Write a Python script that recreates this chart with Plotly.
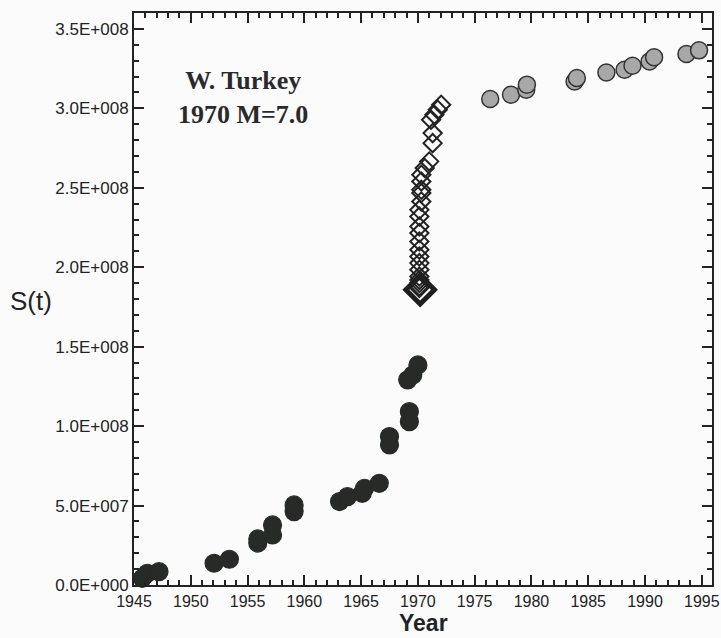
import plotly.graph_objects as go

# Cumulative Benioff strain S(t) for the W. Turkey 1970 M=7.0 sequence
# Foreshock period (filled black circles)
pre_years = [1945.73, 1946.17, 1947.2, 1952.05, 1953.4, 1955.9, 1955.9, 1957.2, 1957.2,
             1959.1, 1959.1, 1963.1, 1963.8, 1965.1, 1965.3, 1966.6, 1967.5, 1967.5,
             1969.25, 1969.25, 1969.1, 1969.55, 1970.0]
pre_values = [0.42e7, 0.74e7, 0.84e7, 1.37e7, 1.62e7, 2.64e7, 2.9e7, 3.15e7, 3.78e7,
              4.62e7, 5.04e7, 5.25e7, 5.56e7, 5.77e7, 6.09e7, 6.40e7, 8.82e7, 9.34e7,
              1.028e8, 1.091e8, 1.291e8, 1.322e8, 1.385e8]

# Main shock (large diamond)
main_year = [1970.2]
main_value = [1.858e8]

# Aftershock period (open diamonds)
after_years = [1970.13, 1970.13, 1970.13, 1970.13, 1970.13, 1970.13, 1970.13, 1970.13,
               1970.13, 1970.13, 1970.13, 1970.13, 1970.13, 1970.13,
               1970.3, 1970.3, 1970.3, 1970.3, 1970.3,
               1970.6, 1971.0, 1971.3, 1971.3, 1971.16, 1971.45, 1971.75, 1972.05]
after_values = [1.87e8, 1.88e8, 1.90e8, 1.92e8, 1.941e8, 1.984e8, 2.026e8, 2.067e8,
                2.110e8, 2.162e8, 2.215e8, 2.256e8, 2.319e8, 2.361e8,
                2.414e8, 2.467e8, 2.487e8, 2.540e8, 2.582e8,
                2.624e8, 2.666e8, 2.781e8, 2.844e8, 2.928e8, 2.960e8, 2.991e8, 3.023e8]

# Later period (grey circles)
post_years = [1976.37, 1978.2, 1979.54, 1979.6, 1983.8, 1984.0, 1986.6, 1988.2,
              1988.9, 1990.4, 1990.8, 1993.65, 1994.76]
post_values = [3.059e8, 3.086e8, 3.117e8, 3.149e8, 3.169e8, 3.191e8, 3.226e8, 3.243e8,
               3.268e8, 3.295e8, 3.321e8, 3.342e8, 3.365e8]

x_ticks = [1945, 1950, 1955, 1960, 1965, 1970, 1975, 1980, 1985, 1990, 1995]
y_ticks = [0, 5e7, 1e8, 1.5e8, 2e8, 2.5e8, 3e8, 3.5e8]
y_tick_labels = ["0.0E+000", "5.0E+007", "1.0E+008", "1.5E+008",
                 "2.0E+008", "2.5E+008", "3.0E+008", "3.5E+008"]

INK = "#232323"
SANS = "Liberation Sans, Arial, sans-serif"
fig = go.Figure()

fig.add_trace(go.Scatter(
    x=pre_years, y=pre_values, mode="markers", cliponaxis=False,
    marker=dict(symbol="circle", size=18, color="#262b27",
                line=dict(color="#262b27", width=1.2)),
))
fig.add_trace(go.Scatter(
    x=after_years, y=after_values, mode="markers", cliponaxis=False,
    marker=dict(symbol="diamond-open", size=14, color=INK,
                line=dict(color=INK, width=2)),
))
fig.add_trace(go.Scatter(
    x=main_year, y=main_value, mode="markers", cliponaxis=False,
    marker=dict(symbol="diamond-open", size=22, color="#1e1e1e",
                line=dict(color="#1e1e1e", width=5)),
))
fig.add_trace(go.Scatter(
    x=post_years, y=post_values, mode="markers", cliponaxis=False,
    marker=dict(symbol="circle", size=17, color="#a8a8a8",
                line=dict(color="#333333", width=1.5)),
))

axis_common = dict(
    showline=True, linecolor=INK, linewidth=2, mirror="allticks",
    ticks="inside", ticklen=10, tickwidth=2, tickcolor=INK,
    showgrid=False, zeroline=False, automargin=False,
)

fig.update_xaxes(
    range=[1945, 1995.9], tickmode="array", tickvals=x_ticks, ticklabelstandoff=1,
    tickfont=dict(family=SANS, size=16, color=INK),
    minor=dict(ticks="inside", ticklen=5, tickwidth=2, tickcolor=INK, dtick=1, tick0=1945),
    **axis_common,
)
fig.update_yaxes(
    range=[0, 3.6e8], tickmode="array", tickvals=y_ticks, ticktext=y_tick_labels,
    tickfont=dict(family=SANS, size=17, color=INK),
    minor=dict(ticks="inside", ticklen=5, tickwidth=2, tickcolor=INK, dtick=1e7, tick0=0),
    **axis_common,
)

# Axis titles
fig.add_annotation(
    text="S(t)", xref="paper", yref="paper", x=-0.178, y=0.4965,
    xanchor="center", yanchor="middle", showarrow=False,
    font=dict(family=SANS, size=26, color=INK),
)
fig.add_annotation(
    text="<b>Year</b>", xref="paper", yref="paper", x=0.5, y=-0.0915,
    xanchor="center", yanchor="bottom", showarrow=False, borderpad=0,
    font=dict(family=SANS, size=23, color=INK),
)
fig.add_annotation(
    text="<b>W. Turkey<br>1970 M=7.0</b>", xref="paper", yref="paper",
    x=0.1886, y=0.853, xanchor="center", yanchor="middle", showarrow=False,
    font=dict(family="Liberation Serif, Times New Roman, serif", size=26, color="#2a2a2a"),
)

fig.update_layout(
    width=721, height=638,
    margin=dict(l=134, r=9, t=13, b=53),
    paper_bgcolor="#fbfbfb", plot_bgcolor="#fbfbfb",
    showlegend=False,
)

fig.write_html("out.html")
